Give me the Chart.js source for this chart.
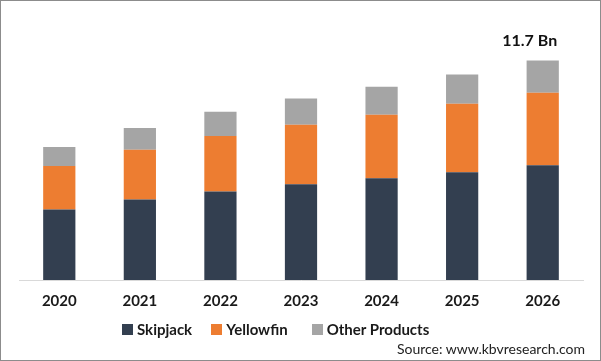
<!DOCTYPE html>
<html>
<head>
<meta charset="utf-8">
<script src="https://cdn.jsdelivr.net/npm/chart.js@4.4.0/dist/chart.umd.min.js"></script>
<style>
  html, body { margin: 0; padding: 0; background: #fff; }
  #wrap { position: relative; width: 599px; height: 359px; border: 1px solid #8c8c8c; overflow: hidden; }
  #chart { position: absolute; left: 0; top: 0; }
  #legend { position: absolute; left: 121px; top: 319px; display: flex; font: bold 15px Lato, sans-serif; color: #1a1a1a; }
  #legend .item { display: flex; align-items: center; margin-right: 19px; }
  #legend .item:nth-child(2) { margin-right: 24px; }
  #legend .box { width: 11px; height: 11px; margin-right: 4px; }
  #source { position: absolute; right: 15px; top: 339px; font: 14px Lato, sans-serif; color: #222; }
</style>
</head>
<body>
<div id="wrap">
  <canvas id="chart" width="599" height="359"></canvas>
  <div id="legend"></div>
  <div id="source">Source: www.kbvresearch.com</div>
</div>
<script>
const years = ['2020', '2021', '2022', '2023', '2024', '2025', '2026'];
const skipjack = [3.76, 4.29, 4.72, 5.10, 5.42, 5.74, 6.12];
const yellowfin = [2.31, 2.65, 2.95, 3.17, 3.38, 3.65, 3.86];
const otherProducts = [1.02, 1.16, 1.29, 1.40, 1.50, 1.56, 1.72];
const topLabel = '11.7 Bn';

const series = [
  { label: 'Skipjack', data: skipjack, color: '#333F50' },
  { label: 'Yellowfin', data: yellowfin, color: '#ED7D31' },
  { label: 'Other Products', data: otherProducts, color: '#A5A5A5' }
];

document.getElementById('legend').innerHTML = series
  .map((s) => `<div class="item"><span class="box" style="background:${s.color}"></span>${s.label}</div>`)
  .join('');

// etiqueta del total sobre la última barra
const totalLabel = {
  id: 'totalLabel',
  afterDatasetsDraw(chart) {
    const last = years.length - 1;
    const meta = chart.getDatasetMeta(series.length - 1);
    const bar = meta.data[last];
    const { ctx } = chart;
    ctx.save();
    ctx.font = 'bold 16px Lato, sans-serif';
    ctx.fillStyle = '#111';
    ctx.textAlign = 'center';
    ctx.textBaseline = 'alphabetic';
    ctx.fillText(topLabel, bar.x - 13, bar.y - 14);
    ctx.restore();
  }
};

new Chart(document.getElementById('chart'), {
  type: 'bar',
  data: {
    labels: years,
    datasets: series.map((s) => ({
      label: s.label,
      data: s.data,
      backgroundColor: s.color,
      barPercentage: 0.4,
      categoryPercentage: 1
    }))
  },
  options: {
    responsive: false,
    animation: false,
    layout: { padding: { left: 18, right: 17, top: 35, bottom: 38 } },
    plugins: { legend: { display: false }, tooltip: { enabled: false } },
    scales: {
      x: {
        stacked: true,
        grid: { display: false, drawTicks: false },
        border: { color: '#d9d9d9', width: 1 },
        ticks: { color: '#1a1a1a', font: { family: 'Lato', size: 15, weight: 'bold' }, padding: 12 }
      },
      y: {
        stacked: true,
        display: false,
        min: 0,
        max: 13
      }
    }
  },
  plugins: [totalLabel]
});
</script>
</body>
</html>
